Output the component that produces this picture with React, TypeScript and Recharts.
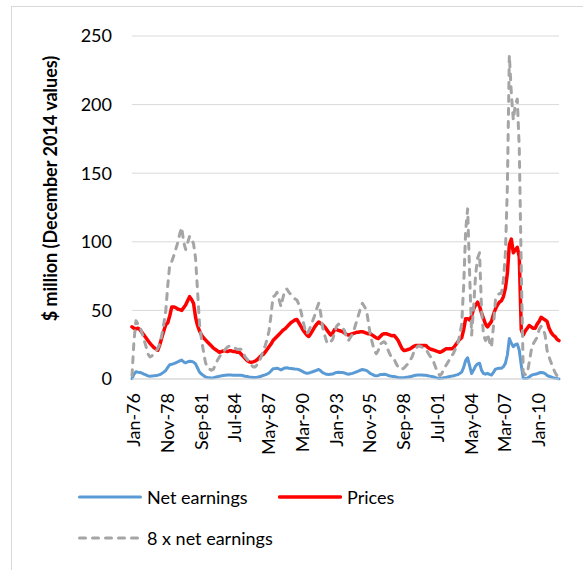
import { CartesianGrid, Legend, Line, LineChart, XAxis, YAxis } from "recharts";

// bi-monthly observations, Jan-76 .. Nov-11 (6 per year)
const MONTHS = ["Jan", "Mar", "May", "Jul", "Sep", "Nov"];
const FIRST_YEAR = 1976;
const LAST_YEAR = 2011;

// $ million, December 2014 values
const netEarnings = [
  0.3, 3.5, 5.3, 5.0, 4.8, 4.2, // 1976
  3.6, 3.0, 2.3, 2.0, 2.1, 2.3, // 1977
  2.5, 2.8, 3.2, 4.0, 5.0, 6.2, // 1978
  8.5, 10.4, 10.7, 11.2, 11.8, 12.4, // 1979
  13.2, 13.8, 12.5, 11.8, 12.4, 13.0, // 1980
  12.8, 12.3, 11.0, 8.0, 5.0, 3.6, // 1981
  2.5, 1.5, 1.0, 0.9, 0.8, 0.9, // 1982
  1.3, 1.7, 2.0, 2.3, 2.5, 2.7, // 1983
  2.9, 3.0, 2.9, 2.8, 2.8, 2.7, // 1984
  2.7, 2.7, 2.4, 2.0, 1.8, 1.5, // 1985
  1.3, 1.1, 1.1, 1.3, 1.6, 2.0, // 1986
  2.6, 3.0, 3.6, 4.4, 5.8, 7.5, // 1987
  7.6, 7.9, 7.3, 6.6, 7.4, 8.1, // 1988
  8.2, 7.9, 7.7, 7.5, 7.3, 7.2, // 1989
  6.8, 6.2, 5.4, 4.6, 4.1, 4.4, // 1990
  4.8, 5.3, 5.8, 6.4, 6.9, 6.0, // 1991
  4.7, 4.0, 3.4, 3.2, 3.4, 3.6, // 1992
  4.2, 4.8, 5.0, 4.8, 4.7, 4.4, // 1993
  3.8, 3.5, 3.8, 4.1, 4.6, 5.2, // 1994
  5.8, 6.4, 6.9, 6.6, 6.3, 5.2, // 1995
  4.0, 3.3, 2.6, 2.3, 2.6, 3.2, // 1996
  3.3, 3.4, 3.2, 2.6, 2.2, 1.9, // 1997
  1.8, 1.4, 1.1, 0.9, 0.9, 1.0, // 1998
  1.2, 1.4, 1.7, 2.0, 2.5, 2.8, // 1999
  3.0, 3.0, 2.9, 2.8, 2.7, 2.4, // 2000
  2.1, 1.9, 1.5, 1.0, 0.6, 0.3, // 2001
  0.5, 0.9, 1.2, 1.5, 1.8, 2.1, // 2002
  2.4, 2.8, 3.2, 4.0, 5.0, 8.5, // 2003
  13.5, 15.5, 9.6, 4.0, 6.5, 9.5, // 2004
  11.0, 11.5, 6.3, 4.0, 3.5, 4.1, // 2005
  3.4, 2.9, 4.8, 7.2, 7.6, 7.8, // 2006
  7.8, 9.0, 11.4, 17.5, 29.5, 26.0, // 2007
  23.6, 25.0, 25.5, 21.0, 10.0, 0.6, // 2008
  0.4, 0.5, 1.5, 2.6, 3.2, 3.5, // 2009
  3.8, 4.5, 4.8, 4.6, 4.0, 2.6, // 2010
  2.0, 1.5, 1.0, 0.6, 0.3, 0.1, // 2011
];

const prices = [
  38, 37, 36.5, 37, 36, 34, // 1976
  32, 30, 28, 26, 24.5, 23, // 1977
  22, 21, 25, 30, 35, 39.5, // 1978
  41, 46, 52.4, 52.5, 52, 51, // 1979
  50.5, 50, 52, 54, 57, 60, // 1980
  58, 55, 45, 39, 35, 32, // 1981
  30, 28.5, 27, 25.5, 24, 22.5, // 1982
  21.5, 20.5, 19.5, 20, 20.5, 20.5, // 1983
  20, 20.5, 20.5, 20, 20, 19.5, // 1984
  19.5, 18, 16.5, 15, 13.5, 12.5, // 1985
  12.2, 12.5, 13, 14, 15.5, 17, // 1986
  17.8, 19.5, 21.5, 23.5, 25.5, 28, // 1987
  29.5, 31, 32.5, 34, 35.5, 36.5, // 1988
  38, 39.5, 41, 42, 43, 43.4, // 1989
  41, 38.5, 36, 34, 32, 31, // 1990
  33, 35.5, 38, 40, 41.5, 40.5, // 1991
  39.5, 38, 36, 34, 32, 33.5, // 1992
  36, 36, 35.5, 35, 34.5, 33.5, // 1993
  32.5, 32, 32.5, 33, 33.5, 34, // 1994
  34, 34.5, 34.5, 34, 33.5, 33, // 1995
  33, 32, 31, 30, 29.5, 31, // 1996
  32.5, 33, 33, 32.5, 32, 31.5, // 1997
  31.7, 30, 28, 25, 22, 20.7, // 1998
  21, 21.5, 22, 23, 24, 24.4, // 1999
  24.4, 24.4, 24.4, 24.4, 24.4, 23, // 2000
  22, 21.5, 21, 20.5, 20, 19.5, // 2001
  20, 21, 22, 22, 22, 22, // 2002
  23, 25, 27, 29, 30, 36, // 2003
  44, 44, 43, 46, 51, 54, // 2004
  56, 53, 48, 44, 40, 38, // 2005
  40, 42, 47, 51, 54, 56, // 2006
  57, 60, 66, 77, 98, 102, // 2007
  92, 94, 96, 89, 36, 32, // 2008
  35, 37, 39, 38, 37, 37, // 2009
  40, 42, 45, 44, 43, 42, // 2010
  37, 34, 32, 31, 29, 28, // 2011
];

const yTicks = [0, 50, 100, 150, 200, 250];

const categories: string[] = [];
for (let yr = FIRST_YEAR; yr <= LAST_YEAR; yr++) {
  for (const m of MONTHS) categories.push(`${m}-${String(yr % 100).padStart(2, "0")}`);
}

const data = categories.map((label, i) => ({
  label,
  net: netEarnings[i],
  price: prices[i],
  net8: netEarnings[i] * 8,
}));

const SERIES = [
  { key: "net", name: "Net earnings", color: "#5B9BD5", width: 3, dash: undefined as string | undefined },
  { key: "price", name: "Prices", color: "#FF0000", width: 3.5, dash: undefined as string | undefined },
  { key: "net8", name: "8 x net earnings", color: "#A5A5A5", width: 3, dash: "6 7" },
];

// where each legend entry sits (Excel wraps the third item to a second row)
const LEGEND_SLOTS = [
  { left: 78, top: 0 },
  { left: 278, top: 0 },
  { left: 78, top: 41 },
];

const FONT = "Lato, 'Open Sans', sans-serif";

const XTick = ({ x, y, payload }: any) => (
  <text
    x={x}
    y={y}
    dx={-14}
    dy={1}
    transform={`rotate(-90 ${x} ${y})`}
    textAnchor="end"
    dominantBaseline="central"
    fontSize={18}
    fill="#000"
  >
    {payload.value}
  </text>
);

const LegendBox = ({ payload }: any) => {
  const shown = SERIES.filter((s) => (payload || []).some((p: any) => p.dataKey === s.key));
  return (
    <div style={{ position: "relative", height: 70, fontFamily: FONT, fontSize: 18, color: "#000" }}>
      {shown.map((s, i) => {
        const slot = LEGEND_SLOTS[i];
        return (
          <div
            key={s.key}
            style={{ position: "absolute", left: slot.left, top: slot.top, height: 24, display: "flex", alignItems: "center", whiteSpace: "nowrap" }}
          >
            <svg width={64} height={10} style={{ marginRight: 5 }}>
              <line x1={1.5} y1={5} x2={62.5} y2={5} stroke={s.color} strokeWidth={s.width} strokeDasharray={s.dash} strokeLinecap="round" />
            </svg>
            <span>{s.name}</span>
          </div>
        );
      })}
    </div>
  );
};

export default function App() {
  return (
    <div style={{ position: "fixed", left: 0, top: 0, width: 583, height: 570, overflow: "hidden", background: "#fff", fontFamily: FONT }}>
      <div
        style={{ position: "absolute", left: 11, top: 6, width: 620, height: 620, borderLeft: "1px solid #d9d9d9", borderTop: "1px solid #d9d9d9" }}
      />
      <div style={{ position: "absolute", left: 0, top: 0 }}>
        <LineChart width={583} height={570} data={data} margin={{ top: 36, right: 24, bottom: 0, left: 0 }}>
          <CartesianGrid vertical={false} stroke="#d9d9d9" />
          <XAxis
            dataKey="label"
            interval={16}
            height={191}
            tickLine={false}
            tickSize={0}
            tickMargin={0}
            axisLine={{ stroke: "#d9d9d9" }}
            tick={<XTick />}
          />
          <YAxis
            domain={[0, 250]}
            ticks={yTicks}
            width={132}
            axisLine={false}
            tickLine={false}
            tickSize={0}
            tickMargin={20}
            tick={{ fontSize: 18, fill: "#000" }}
            label={{
              content: ({ viewBox }: any) => {
                const cx = viewBox.x + 50;
                const cy = viewBox.y + viewBox.height / 2 - 19;
                return (
                  <text
                    x={cx}
                    y={cy}
                    transform={`rotate(-90 ${cx} ${cy})`}
                    textAnchor="middle"
                    dominantBaseline="central"
                    fontSize={18}
                    fontWeight="bold"
                    fill="#000"
                  >
                    $ million (December 2014 values)
                  </text>
                );
              },
            }}
          />
          <Legend
            layout="horizontal"
            verticalAlign="middle"
            align="center"
            wrapperStyle={{ position: "absolute", left: 0, top: 485, width: 583 }}
            content={<LegendBox />}
          />
          {SERIES.map((s) => (
            <Line
              key={s.key}
              type="linear"
              dataKey={s.key}
              name={s.name}
              stroke={s.color}
              strokeWidth={s.width}
              strokeDasharray={s.dash}
              strokeLinecap="round"
              strokeLinejoin="round"
              dot={false}
              activeDot={false}
              isAnimationActive={false}
            />
          ))}
        </LineChart>
      </div>
    </div>
  );
}
